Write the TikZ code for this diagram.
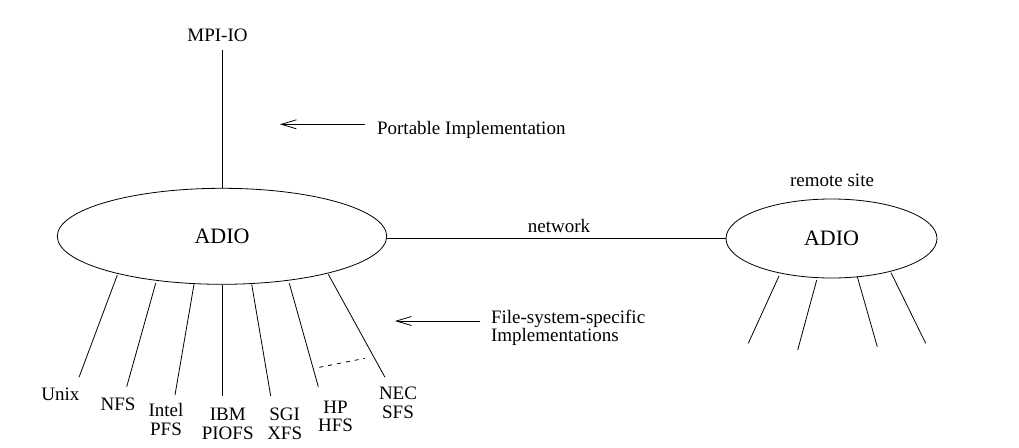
\documentclass[tikz,border=0pt]{standalone}
\usepackage{fontspec}
\setmainfont{Liberation Serif}
\usetikzlibrary{shapes.geometric,arrows.meta}
\begin{document}
\begin{tikzpicture}[x=1pt,y=-1pt,
  line width=0.8pt,
  lbl/.style={font=\fontsize{19}{18.3}\selectfont, inner sep=0pt, align=center, anchor=base},
  adio/.style={draw, ellipse, inner sep=0pt, font=\fontsize{22}{26}\selectfont},
  wire/.style={line width=0.8pt},
  ptr/.style={line width=0.8pt, -{Straight Barb[length=15pt,width=9pt,line width=0.8pt]}}]
\useasboundingbox (0,0) rectangle (1019,447);
% ellipses
\node[adio, minimum width=329.4pt, minimum height=96pt] (A) at (222,236.3) {ADIO};
\node[adio, minimum width=211pt, minimum height=79pt] (R) at (831.5,238.5) {ADIO};
% top
\node[lbl] (mpi) at (217.5,41) {MPI-IO};
\coordinate (mpib) at (222,50);
\draw[wire] (mpib) -- (A.north);
% portable arrow
\coordinate (pa1) at (365,124.3);
\coordinate (pa2) at (280,124.3);
\draw[ptr] (pa1) -- (pa2);
\node[lbl, anchor=base west] (port) at (376.7,134) {Portable Implementation};
% network
\draw[wire] (A.east |- R.west) -- (R.west);
\node[lbl] (netl) at (559,232.7) {network};
\node[lbl] (remote) at (832,186) {remote site};
% file-system arrow
\coordinate (fa1) at (480,321);
\coordinate (fa2) at (395,321);
\draw[ptr] (fa1) -- (fa2);
\node[lbl, anchor=base west, align=left] (fs) at (490.7,341.7) {File-system-specific\\Implementations};
% left leaves
\coordinate (t1) at (117.3,275);   \coordinate (b1) at (79,377.3);
\coordinate (t2) at (155.7,283.3); \coordinate (b2) at (126.7,386.7);
\coordinate (t3) at (194,284.3);   \coordinate (b3) at (175,395);
\coordinate (t4) at (222.7,285);   \coordinate (b4) at (222.7,396);
\coordinate (t5) at (251.7,284.3); \coordinate (b5) at (270.7,396);
\coordinate (t6) at (289.3,283.3); \coordinate (b6) at (318.3,386.7);
\coordinate (t7) at (328.3,274.3); \coordinate (b7) at (385,377.3);
\foreach \i in {1,...,7} {\draw[wire] (t\i) -- (b\i);}
\coordinate (d1) at (319.3,367.3); \coordinate (d2) at (365,358.3);
\draw[wire, dash pattern=on 4pt off 5pt] (d1) -- (d2);
\node[lbl] (unix) at (60.3,400) {Unix};
\node[lbl] (nfs) at (118,410.7) {NFS};
\node[lbl] (intel) at (166,435) {Intel\\PFS};
\node[lbl] (ibm) at (227.7,439) {IBM\\PIOFS};
\node[lbl] (sgi) at (284.7,439) {SGI\\XFS};
\node[lbl] (hp) at (335.5,431.7) {HP\\HFS};
\node[lbl] (nec) at (398,418) {NEC\\SFS};
% right leaves
\coordinate (r1) at (779,276);   \coordinate (s1) at (748.3,343.3);
\coordinate (r2) at (816.7,280); \coordinate (s2) at (797.7,350);
\coordinate (r3) at (857.3,276.7); \coordinate (s3) at (877.3,346.7);
\coordinate (r4) at (891,272.7); \coordinate (s4) at (925.7,343.3);
\foreach \i in {1,...,4} {\draw[wire] (r\i) -- (s\i);}
\end{tikzpicture}
\end{document}
